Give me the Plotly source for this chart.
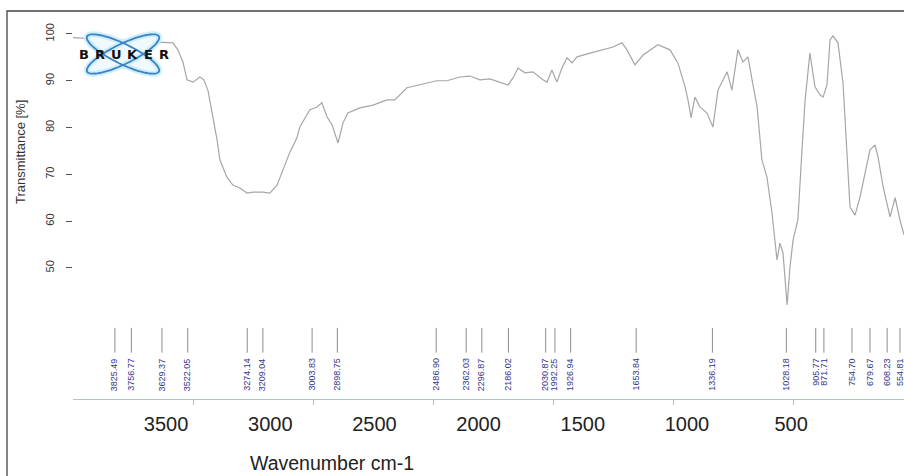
import math
import plotly.graph_objects as go

# FT-IR spectrum: wavenumber (cm-1) and transmittance (%)
wavenumber = [4000, 3888, 3763, 3680, 3617, 3584, 3563, 3542, 3525, 3500, 3471, 3455, 3438,
              3417, 3400, 3388, 3359, 3334, 3305, 3275, 3250, 3209, 3180, 3150, 3125, 3096,
              3067, 3055, 3013, 2984, 2963, 2942, 2921, 2896, 2875, 2855, 2805, 2750, 2692,
              2659, 2609, 2555, 2484, 2442, 2388, 2346, 2305, 2263, 2221, 2188, 2167, 2146,
              2117, 2084, 2042, 2025, 2005, 1984, 1963, 1942, 1921, 1900, 1846, 1792, 1750,
              1713, 1692, 1659, 1625, 1563, 1513, 1480, 1450, 1438, 1425, 1409, 1388, 1359,
              1334, 1313, 1275, 1255, 1242, 1230, 1209, 1188, 1171, 1150, 1130, 1109, 1088,
              1067, 1055, 1042, 1025, 1013, 1000, 980, 963, 950, 930, 909, 888, 875, 859,
              846, 834, 813, 792, 775, 763, 742, 721, 700, 680, 659, 646, 625, 596, 575,
              555, 538]
transmittance = [99.2, 98.9, 98.7, 98.5, 98.3, 98.1, 96.6, 94.0, 90.2, 89.7, 90.8, 90.2, 88.0,
                 82.3, 77.4, 73.1, 69.4, 67.7, 67.1, 66.0, 66.2, 66.2, 66.0, 67.7, 70.9, 74.8,
                 77.8, 80.1, 83.8, 84.4, 85.3, 82.3, 80.6, 76.7, 81.0, 83.1, 84.2, 84.8, 85.9,
                 85.9, 88.5, 89.1, 90.0, 90.0, 90.8, 91.0, 90.2, 90.4, 89.7, 89.1, 90.6, 92.7,
                 91.7, 91.9, 90.2, 89.7, 92.3, 89.7, 92.7, 94.9, 93.8, 95.1, 95.9, 96.6, 97.2,
                 98.1, 96.6, 93.4, 95.5, 97.7, 96.6, 93.8, 88.7, 85.9, 82.1, 86.5, 84.4, 83.1,
                 80.1, 88.0, 91.9, 88.0, 93.0, 96.6, 94.0, 95.1, 90.2, 84.4, 73.1, 69.4, 61.8,
                 51.7, 55.3, 53.2, 42.1, 50.2, 56.0, 60.3, 75.2, 85.9, 95.9, 88.7, 87.0, 86.5,
                 89.1, 98.7, 99.6, 98.1, 89.5, 75.2, 63.0, 61.3, 65.2, 70.3, 75.2, 76.3, 73.7,
                 67.3, 60.9, 65.0, 60.3, 57.1]

# Picked peaks (cm-1)
peak_wavenumbers = [3825.49, 3756.77, 3629.37, 3522.05, 3274.14, 3209.04, 3003.83, 2898.75,
                    2486.90, 2362.03, 2296.87, 2186.02, 2030.87, 1992.25, 1926.94, 1653.84,
                    1336.19, 1028.18, 905.77, 871.71, 754.70, 679.67, 608.23, 554.81]

# Axis ticks
x_tick_values = [3500, 3000, 2500, 2000, 1500, 1000, 500]
x_tick_labels = ["3500", "3000", "2500", "2000", "1500", "1000", "500"]
y_tick_values = [50, 60, 70, 80, 90, 100]
y_tick_labels = ["50", "60", "70", "80", "90", "100"]

W, H = 904, 476
ML, MR, MT, MB = 73, 0, 11, 77
PW, PH = W - ML - MR, H - MT - MB

SANS = "Liberation Sans, Arial, sans-serif"


def to_paper(px, py):
    return (px - ML) / PW, (H - MB - py) / PH


def ellipse_path(cx, cy, a, b, ang_deg, n=72):
    th = math.radians(ang_deg)
    pts = []
    for i in range(n):
        t = 2 * math.pi * i / n
        ex, ey = a * math.cos(t), b * math.sin(t)
        px = cx + ex * math.cos(th) - ey * math.sin(th)
        py = cy + ex * math.sin(th) + ey * math.cos(th)
        xp, yp = to_paper(px, py)
        pts.append(f"{xp:.5f},{yp:.5f}")
    return "M " + " L ".join(pts) + " Z"


fig = go.Figure()

fig.add_trace(go.Scatter(
    x=wavenumber, y=transmittance, mode="lines",
    line=dict(color="#a6a6a6", width=1.2),
    hoverinfo="skip", showlegend=False,
))

# Peak marker ticks
lx, ly = [], []
for w in peak_wavenumbers:
    lx += [w, w, None]
    ly += [37.2, 31.9, None]
fig.add_trace(go.Scatter(
    x=lx, y=ly, mode="lines", line=dict(color="#8c8c8c", width=1),
    hoverinfo="skip", showlegend=False,
))

# Carrier trace for the labelled wavenumber scale
fig.add_trace(go.Scatter(
    x=[x_tick_values[0]], y=[y_tick_values[0]], xaxis="x2", mode="markers",
    marker=dict(opacity=0), hoverinfo="skip", showlegend=False,
))

annotations = []
for w in peak_wavenumbers:
    annotations.append(dict(
        x=w, y=31.2, xref="x", yref="y", text=f"{w:.2f}", showarrow=False,
        textangle=-90, xanchor="center", yanchor="top",
        font=dict(family=SANS, size=9, color="#33338a"),
    ))

ax, ay = to_paper(332, 463)
annotations.append(dict(
    x=ax, y=ay, xref="paper", yref="paper", text="Wavenumber cm-1", showarrow=False,
    xanchor="center", yanchor="middle", font=dict(family=SANS, size=19.5, color="#222"),
))
tx, ty = to_paper(20, 152)
annotations.append(dict(
    x=tx, y=ty, xref="paper", yref="paper", text="Transmittance [%]", showarrow=False,
    textangle=-90, xanchor="center", yanchor="middle",
    font=dict(family=SANS, size=13, color="#333"),
))

# Logo lettering
for ch, cxp in zip("BRUKER", [84, 100, 116, 132, 148, 164]):
    lxp, lyp = to_paper(cxp, 54)
    annotations.append(dict(
        x=lxp, y=lyp, xref="paper", yref="paper", text=ch, showarrow=False,
        xanchor="center", yanchor="middle",
        font=dict(family="DejaVu Sans", size=13, color="#111", weight="bold"),
    ))

shapes = []
# Outer frame
fx0, fy1 = to_paper(7, 11)
shapes.append(dict(type="rect", xref="paper", yref="paper", x0=fx0, x1=1.2, y0=-0.5, y1=fy1,
                   line=dict(color="#444", width=1.3), fillcolor="rgba(0,0,0,0)", layer="above"))
# Logo orbits
for ang in (26, -26):
    shapes.append(dict(type="path", xref="paper", yref="paper", path=ellipse_path(123, 54, 40, 10, ang),
                       line=dict(color="#cdeffb", width=6), fillcolor="#f0fafe", layer="above"))
for ang in (26, -26):
    shapes.append(dict(type="path", xref="paper", yref="paper", path=ellipse_path(123, 54, 40, 10, ang),
                       line=dict(color="#3d82c4", width=1.8), fillcolor="rgba(0,0,0,0)", layer="above"))

fig.update_layout(
    width=W, height=H, margin=dict(l=ML, r=MR, t=MT, b=MB),
    paper_bgcolor="white", plot_bgcolor="white", hovermode=False,
    showlegend=False,
    xaxis=dict(range=[4000, 538], domain=[0, 1], anchor="y", showline=True,
               linecolor="#b7bfcf", linewidth=1, ticks="outside", ticklen=5,
               tickcolor="#b7bfcf", tickvals=x_tick_values, showticklabels=False,
               showgrid=False, zeroline=False),
    xaxis2=dict(range=[3947, -42], overlaying="x", side="bottom", anchor="y",
                tickvals=x_tick_values, ticktext=x_tick_labels, showline=False, ticks="",
                showgrid=False, zeroline=False, ticklabelstandoff=11,
                tickfont=dict(family=SANS, size=20, color="#222")),
    yaxis=dict(range=[22.0, 104.9], tickvals=y_tick_values, ticktext=y_tick_labels,
               tickangle=-90, ticks="outside", ticklen=6, tickcolor="#555",
               showline=False, showgrid=False, zeroline=False, ticklabelstandoff=8,
               tickfont=dict(family=SANS, size=11, color="#333")),
    annotations=annotations, shapes=shapes,
)

fig.write_html("out.html")
